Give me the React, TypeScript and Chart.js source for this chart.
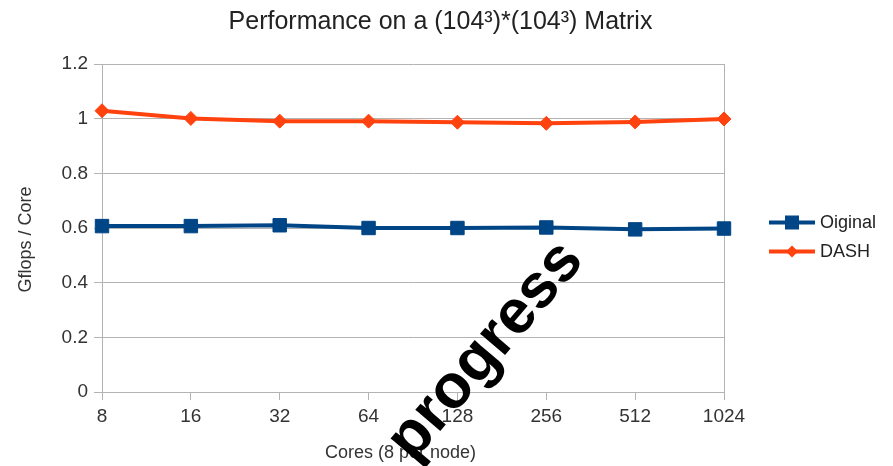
import React, { useEffect, useRef } from "react";
import { Chart, registerables } from "chart.js";

Chart.register(...registerables);

const categories = ["8", "16", "32", "64", "128", "256", "512", "1024"];
const originalValues = [0.607, 0.607, 0.61, 0.6, 0.6, 0.602, 0.595, 0.598];
const dashValues = [1.029, 1.001, 0.991, 0.991, 0.987, 0.983, 0.988, 0.999];
const yTickValues = [0, 0.2, 0.4, 0.6, 0.8, 1, 1.2];

const BLUE = "#004586";
const ORANGE = "#ff420e";
const GRID = "#b3b3b3";
const TEXT = "#333333";
const FONT = "'Liberation Sans', Arial, sans-serif";

// Axis captions, placed relative to the plot area.
const axisCaptions = {
  id: "axisCaptions",
  beforeDatasetsDraw(chart: any) {
    const { ctx, chartArea } = chart;
    ctx.save();
    ctx.fillStyle = TEXT;
    ctx.font = `18px ${FONT}`;
    ctx.textAlign = "center";
    ctx.textBaseline = "middle";
    ctx.fillText(
      "Cores (8 per node)",
      chartArea.left + chartArea.width * 0.48,
      chartArea.bottom + 61
    );
    ctx.translate(26, chartArea.top + chartArea.height * 0.535);
    ctx.rotate(-Math.PI / 2);
    ctx.fillText("Gflops / Core", 0, 0);
    ctx.restore();
  },
};

// Large diagonal word stamped over the plot (tick labels are layered above it).
const stamp = {
  id: "stamp",
  afterDatasetsDraw(chart: any) {
    const { ctx } = chart;
    ctx.save();
    ctx.translate(486, 351);
    ctx.rotate((-49.5 * Math.PI) / 180);
    ctx.font = `bold 62px ${FONT}`;
    ctx.fillStyle = "#000000";
    ctx.textAlign = "center";
    ctx.textBaseline = "middle";
    ctx.fillText("progress", 0, 0);
    ctx.restore();
  },
};

// Legend drawn beside the plot: a short line with the series marker in its middle.
const sideLegend = {
  id: "sideLegend",
  afterDraw(chart: any) {
    const { ctx, chartArea } = chart;
    const x0 = chartArea.right + 45;
    const cy = (chartArea.top + chartArea.bottom) / 2;
    const rows = [cy - 5.5, cy + 23.5];
    chart.data.datasets.forEach((ds: any, i: number) => {
      const y = rows[i];
      ctx.save();
      ctx.strokeStyle = ds.borderColor;
      ctx.fillStyle = ds.borderColor;
      ctx.lineWidth = 4;
      ctx.beginPath();
      ctx.moveTo(x0, y);
      ctx.lineTo(x0 + 46, y);
      ctx.stroke();
      const mx = x0 + 23;
      if (ds.pointStyle === "rect") {
        ctx.fillRect(mx - 7, y - 7, 14, 14);
      } else {
        ctx.beginPath();
        ctx.moveTo(mx, y - 6);
        ctx.lineTo(mx + 6, y);
        ctx.lineTo(mx, y + 6);
        ctx.lineTo(mx - 6, y);
        ctx.closePath();
        ctx.fill();
      }
      ctx.fillStyle = "#222222";
      ctx.font = `18px ${FONT}`;
      ctx.textAlign = "left";
      ctx.textBaseline = "middle";
      ctx.fillText(ds.label, x0 + 51, y + 1);
      ctx.restore();
    });
  },
};

export default function App() {
  const canvasRef = useRef<HTMLCanvasElement | null>(null);

  useEffect(() => {
    if (!canvasRef.current) return;
    const chart = new Chart(canvasRef.current, {
      type: "line",
      data: {
        labels: categories,
        datasets: [
          {
            label: "Oiginal",
            data: originalValues,
            borderColor: BLUE,
            backgroundColor: BLUE,
            borderWidth: 4,
            pointStyle: "rect",
            pointRadius: 9.5,
            pointBorderWidth: 1,
            pointBorderColor: BLUE,
            pointBackgroundColor: BLUE,
            tension: 0,
          },
          {
            label: "DASH",
            data: dashValues,
            borderColor: ORANGE,
            backgroundColor: ORANGE,
            borderWidth: 4,
            pointStyle: "rectRot",
            pointRadius: 7,
            pointBorderWidth: 1,
            pointBorderColor: ORANGE,
            pointBackgroundColor: ORANGE,
            tension: 0,
          },
        ],
      },
      options: {
        responsive: false,
        animation: false,
        layout: { padding: { left: 0, right: 12, top: 0, bottom: 0 } },
        font: { family: FONT },
        plugins: {
          legend: { display: false },
          tooltip: { enabled: false },
          title: {
            display: true,
            text: "Performance on a (104³)*(104³) Matrix",
            color: "#222222",
            font: { family: FONT, size: 25, weight: "normal" },
            padding: { top: 7, bottom: 27 },
          },
        },
        scales: {
          x: {
            type: "category",
            offset: false,
            afterFit: (s: any) => {
              s.height = 74;
            },
            grid: {
              display: true,
              drawOnChartArea: true,
              drawTicks: true,
              tickLength: 8,
              color: (c: any) =>
                c.index === categories.length - 1 ? GRID : "rgba(0,0,0,0)",
              tickColor: GRID,
              lineWidth: 1,
            },
            border: { display: true, color: GRID },
            ticks: {
              z: 1,
              color: TEXT,
              padding: 5,
              maxRotation: 0,
              autoSkip: false,
              font: { family: FONT, size: 19 },
            },
            title: { display: false },
          },
          y: {
            min: 0,
            max: 1.2,
            afterFit: (s: any) => {
              s.width = 102;
            },
            afterBuildTicks: (s: any) => {
              s.ticks = yTickValues.map((v) => ({ value: v }));
            },
            grid: {
              color: GRID,
              tickColor: GRID,
              tickLength: 8,
              lineWidth: 1,
            },
            border: { display: true, color: GRID },
            ticks: {
              color: TEXT,
              padding: 6,
              font: { family: FONT, size: 19 },
              callback: (v: any) => String(Number(v)),
            },
            title: { display: false },
          },
          y2: {
            position: "right",
            display: true,
            afterFit: (s: any) => {
              s.width = 157;
            },
            grid: { display: false },
            border: { display: false },
            ticks: { display: false },
          },
        },
      },
      plugins: [axisCaptions, stamp, sideLegend],
    } as any);
    return () => chart.destroy();
  }, []);

  return (
    <div style={{ position: "absolute", left: 0, top: 0, width: 893, height: 466, background: "#ffffff" }}>
      <canvas ref={canvasRef} width={893} height={466} style={{ display: "block" }} />
    </div>
  );
}
